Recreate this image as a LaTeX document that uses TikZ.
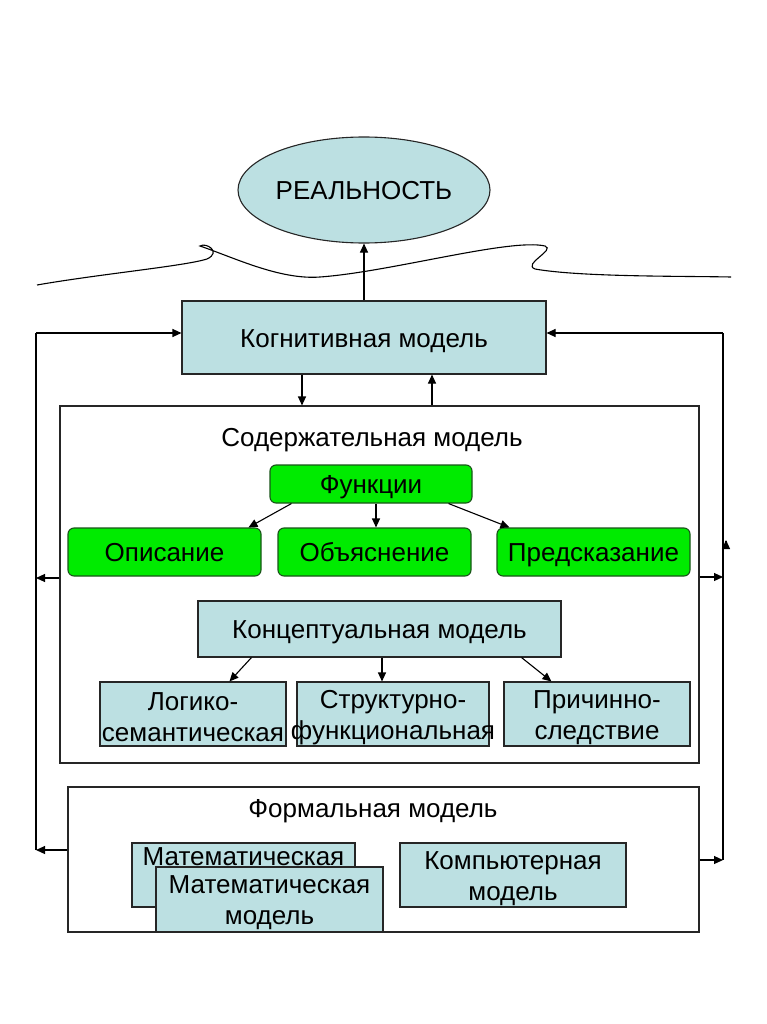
\documentclass[tikz,border=0pt]{standalone}
\usepackage{fontspec}
\setmainfont{Liberation Sans}
\usetikzlibrary{shapes.geometric,arrows.meta}
\definecolor{teal1}{RGB}{188,224,226}
\definecolor{green1}{RGB}{0,235,0}
\definecolor{green2}{RGB}{25,85,25}
\newcommand\zw[1]{\makebox[0pt]{#1}}
\newcommand\zt[1]{\makebox[0pt]{\rule{0pt}{25pt}#1}}
\begin{document}
\begin{tikzpicture}[x=1pt,y=-1pt, font=\fontsize{26}{31}\selectfont, line width=1.1pt,
 arr/.style={-{Triangle[length=9pt,width=8pt]}},
 tbox/.style={draw=black!85, fill=teal1, inner sep=0pt, align=center},
 gbox/.style={draw=green2, fill=green1, rounded corners=6pt, inner sep=0pt, align=center},
 frame/.style={draw=black!85, fill=white, inner sep=0pt},
 one/.style={text height=19pt, text depth=0pt},
 lbl/.style={inner sep=0pt, one}]
\useasboundingbox[fill=white] (0,0) rectangle (767,1024);

% wave line
\draw (37,285) .. controls (100,274) and (185,266) .. (207,259)
  .. controls (222,252) and (206,242) .. (200,246)
  .. controls (235,258) and (280,280) .. (320,277)
  .. controls (390,272) and (510,238) .. (545,246)
  .. controls (556,250) and (522,264) .. (535,269)
  .. controls (580,277) and (680,276) .. (731,277);

% reality
\node[ellipse, draw=black!85, fill=teal1, minimum width=252pt, minimum height=106pt, inner sep=0pt, one] (real) at (364,190) {РЕАЛЬНОСТЬ};

% cognitive model
\node[tbox, one, minimum width=364pt, minimum height=73pt] (cog) at (364,337.5) {Когнитивная модель};
\draw[arr] (cog.north) -- (real.south);

% content model frame
\node[frame, minimum width=639pt, minimum height=357pt] (content) at (379.5,584.5) {};
\node[lbl] (ctitle) at (372,437) {Содержательная модель};

\draw[arr] ([xshift=-62pt]cog.south) -- ([xshift=-77.5pt]content.north);
\draw[arr] ([xshift=52.5pt]content.north) -- ([xshift=68pt]cog.south);

% functions
\node[gbox, one, minimum width=202pt, minimum height=38pt] (func) at (371,484) {Функции};
\node[gbox, one, minimum width=193pt, minimum height=48pt] (opis) at (164.5,552) {Описание};
\node[gbox, one, minimum width=193pt, minimum height=48pt] (obj) at (374.5,552) {Объяснение};
\node[gbox, one, minimum width=193pt, minimum height=48pt] (pred) at (593.5,552) {Предсказание};
\draw[arr] ([xshift=22pt]func.south west) -- ([xshift=181pt]opis.north west);
\draw[arr] ([xshift=5pt]func.south) -- ([xshift=1.5pt]obj.north);
\draw[arr] ([xshift=-24pt]func.south east) -- ([xshift=13pt]pred.north west);

% conceptual model
\node[tbox, one, minimum width=363pt, minimum height=56pt] (conc) at (379.5,629) {Концептуальная модель};
\node[tbox, minimum width=186pt, minimum height=64pt] (log) at (193,714) {\zt{Логико-}\\\zw{семантическая}};
\node[tbox, minimum width=192pt, minimum height=64pt] (str) at (393,714) {\zt{Структурно-}\\\zw{функциональная}};
\node[tbox, minimum width=186pt, minimum height=64pt] (prich) at (597,714) {\zt{Причинно-}\\\zw{следствие}};
\draw[arr] ([xshift=54pt]conc.south west) -- ([xshift=130pt]log.north west);
\draw[arr] ([xshift=2.5pt]conc.south) -- ([xshift=-11pt]str.north);
\draw[arr] ([xshift=-40pt]conc.south east) -- ([xshift=48pt]prich.north west);

% formal model frame
\node[frame, minimum width=631pt, minimum height=145pt] (formal) at (383.5,859.5) {};
\node[lbl] (ftitle) at (373,808) {Формальная модель};
\node[tbox, minimum width=223pt, minimum height=64pt] (mathb) at (243.5,875) {\zw{Математическая}\\\zw{модель}};
\node[tbox, minimum width=227pt, minimum height=65pt] (mathf) at (269.5,899.5) {\zt{Математическая}\\\zw{модель}};
\node[tbox, minimum width=226pt, minimum height=64pt] (comp) at (513,875) {\zt{Компьютерная}\\\zw{модель}};

% left feedback
\coordinate (LT) at (36,333);
\coordinate (LA) at (36,578);
\coordinate (LB) at (36,850);
\draw (LB) -- (LT);
\draw[arr] (LT) -- (LT -| cog.west);
\draw[arr] (LA -| content.west) -- (LA);
\draw[arr] (LB -| formal.west) -- (LB);

% right feedback
\coordinate (RT) at (723,333);
\coordinate (RA) at (723,577);
\coordinate (RB) at (723,860);
\coordinate (RU) at (726,540);
\draw (RB) -- (RT);
\draw[arr] (RT) -- (RT -| cog.east);
\draw[arr] (RA -| content.east) -- (RA);
\draw[arr] (RB -| formal.east) -- (RB);
\draw[arr] ([yshift=-1pt]RU) -- (RU);
\end{tikzpicture}
\end{document}
